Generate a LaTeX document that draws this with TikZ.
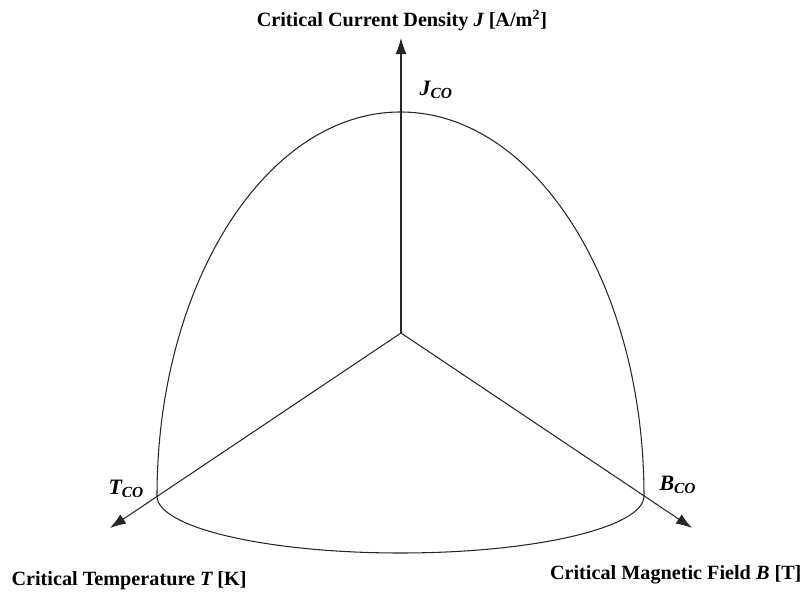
\documentclass[tikz,border=0pt]{standalone}
\usepackage{fontspec}
\setmainfont{Liberation Serif}
\usetikzlibrary{arrows.meta}

\begin{document}
\begin{tikzpicture}[line width=0.6pt, draw=black!85,
    axis/.style={-{Latex[length=3.2mm,width=2.2mm]}},
    title/.style={font=\fontsize{11.5}{14}\selectfont\bfseries, inner sep=0pt},
    crit/.style={font=\fontsize{12.5}{15}\selectfont\bfseries\itshape, inner sep=0pt}]
    \useasboundingbox (0,0) rectangle (16.18,11.88);

    % 原点与三条轴的端点
    \coordinate (o) at (8.02,5.22);
    \coordinate (jtip) at (8.02,11.12);
    \coordinate (ttip) at (2.20,1.32);
    \coordinate (btip) at (13.84,1.32);

    % 临界点：临界曲面与各轴的交点
    \coordinate (tco) at (3.14,1.96);
    \coordinate (bco) at (12.88,1.96);

    % 三条坐标轴
    \draw[axis] (o) -- (jtip);
    \draw[axis] (o) -- (ttip);
    \draw[axis] (o) -- (btip);

    % 临界曲面的轮廓：两段竖直的椭圆弧和底部的半椭圆
    \draw (tco) arc[start angle=180, end angle=90, x radius=4.87, y radius=7.68];
    \draw (bco) arc[start angle=0, end angle=90, x radius=4.87, y radius=7.68];
    \draw (tco) arc[start angle=180, end angle=360, x radius=4.87, y radius=1.14];

    % 临界值标注
    \node[crit, anchor=base west] (jco) at (8.38,9.98) {J\textsubscript{CO}};
    \node[crit, anchor=base west] (tcolbl) at (2.16,2.00) {T\textsubscript{CO}};
    \node[crit, anchor=base west] (bcolbl) at (13.18,2.08) {B\textsubscript{CO}};

    % 坐标轴名称
    \node[title, anchor=base] (jname) at (8.04,11.34) {Critical Current Density {\itshape J} [A/m\textsuperscript{2}]};
    \node[title, anchor=base west] (tname) at (0.22,0.18) {Critical Temperature {\itshape T} [K]};
    \node[title, anchor=base east] (bname) at (16.04,0.30) {Critical Magnetic Field {\itshape B} [T]};
\end{tikzpicture}
\end{document}
